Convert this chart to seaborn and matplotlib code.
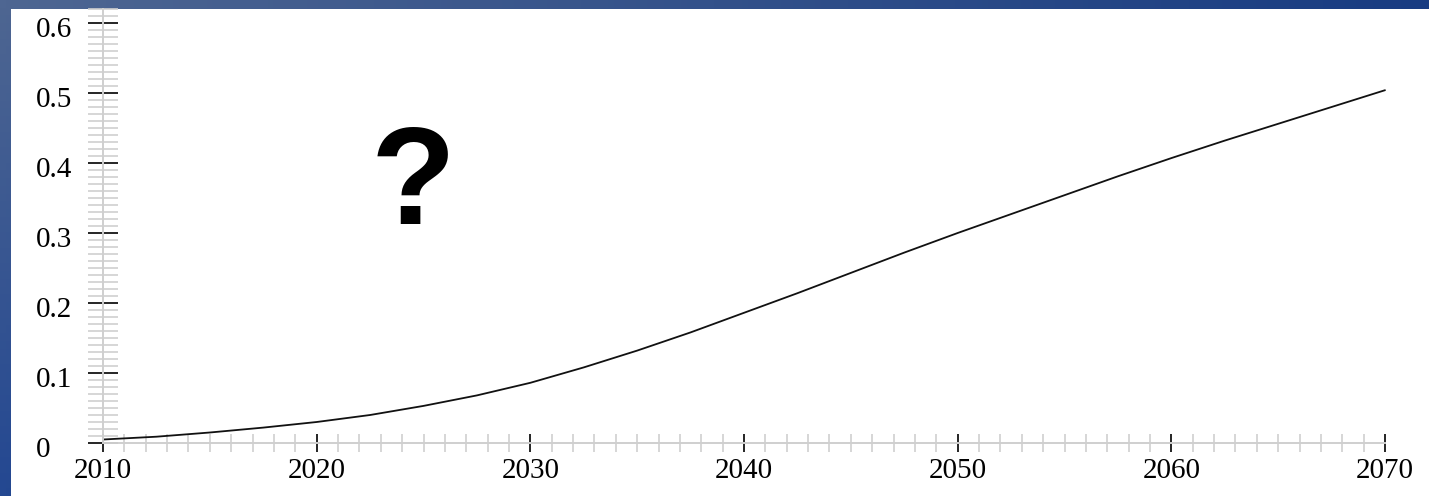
import numpy as np
import pandas as pd
import matplotlib
matplotlib.use("Agg")
import matplotlib.pyplot as plt
from matplotlib.ticker import FixedLocator
import matplotlib.transforms as mtransforms
import seaborn as sns

# Projected series
years = [2010, 2012.5, 2015, 2017.5, 2020, 2022.5, 2025, 2027.5, 2030, 2032.5,
         2035, 2037.5, 2040, 2042.5, 2045, 2047.5, 2050, 2052.5, 2055, 2057.5,
         2060, 2062.5, 2065, 2067.5, 2070]
values = [0.005, 0.009, 0.015, 0.022, 0.030, 0.040, 0.053, 0.068, 0.086, 0.108,
          0.132, 0.158, 0.186, 0.214, 0.243, 0.272, 0.300, 0.327, 0.354, 0.381,
          0.407, 0.432, 0.456, 0.480, 0.504]
y_ticks = [0.0, 0.1, 0.2, 0.3, 0.4, 0.5, 0.6]
y_tick_labels = ["0", "0.1", "0.2", "0.3", "0.4", "0.5", "0.6"]
x_ticks = [2010, 2020, 2030, 2040, 2050, 2060, 2070]

df = pd.DataFrame({"year": years, "value": values})

sns.set_style("white")
plt.rcParams["font.family"] = ["Liberation Serif", "DejaVu Serif"]

W, H = 1429, 496
fig = plt.figure(figsize=(W / 100, H / 100), dpi=100)

# Blue slide background with a soft gradient
bg = fig.add_axes([0, 0, 1, 1])
bg.set_axis_off()
gy, gx = np.mgrid[0:1:64j, 0:1:256j]
tl = np.array([78, 102, 146]) / 255
bl = np.array([36, 72, 145]) / 255
tr = np.array([24, 60, 130]) / 255
br = np.array([30, 66, 138]) / 255
grad = (tl[None, None, :] * ((1 - gx) * (1 - gy))[..., None]
        + bl[None, None, :] * ((1 - gx) * gy)[..., None]
        + tr[None, None, :] * (gx * (1 - gy))[..., None]
        + br[None, None, :] * (gx * gy)[..., None])
bg.imshow(grad, aspect="auto", extent=[0, 1, 0, 1])

# White chart panel
left_px, top_px = 11, 9
ax = fig.add_axes([left_px / W, 0, (W - left_px) / W, (H - top_px) / H])
ax.set_facecolor("white")

sns.lineplot(data=df, x="year", y="value", ax=ax, color="#111111", linewidth=1.3)

px_per_year = (1385 - 103) / 60
px_per_unit = 700.0
ax.set_xlim(2010 - (103 - left_px) / px_per_year, 2010 + (W - 103) / px_per_year)
ax.set_ylim(-(H - 443) / px_per_unit, (443 - top_px) / px_per_unit)

for s in ["top", "right"]:
    ax.spines[s].set_visible(False)
grey = "#cfcfcf"
ax.spines["left"].set_position(("data", 2010))
ax.spines["left"].set_bounds(0, 0.62)
ax.spines["bottom"].set_position(("data", 0))
ax.spines["bottom"].set_bounds(2010, 2070)
for s in ["left", "bottom"]:
    ax.spines[s].set_color(grey)
    ax.spines[s].set_linewidth(1.4)
    ax.spines[s].set_visible(True)

ax.set_yticks(y_ticks)
ax.set_yticklabels(y_tick_labels)
ax.yaxis.set_minor_locator(FixedLocator([i / 100 for i in range(0, 63) if i % 10]))
ax.set_xticks(x_ticks)
ax.set_xticklabels([str(x) for x in x_ticks])
ax.xaxis.set_minor_locator(FixedLocator([y for y in range(2010, 2071) if y % 10]))

# y labels are left-aligned in a column starting at x = 36 px
ax.tick_params(axis="y", which="major", direction="inout", length=21, width=1.2,
               color="black", pad=37.7, left=True)
ax.tick_params(axis="y", which="minor", direction="inout", length=21, width=1.2,
               color=grey, left=True)
ax.tick_params(axis="x", which="major", direction="inout", length=12.5, width=1.2,
               color="black", pad=4.5, bottom=True)
ax.tick_params(axis="x", which="minor", direction="inout", length=12.5, width=1.2,
               color=grey, bottom=True)
ax.set_xlabel("")
ax.set_ylabel("")

shift = mtransforms.ScaledTranslation(0, -4 / 100, fig.dpi_scale_trans)
for lab in ax.get_yticklabels():
    lab.set_fontsize(21)
    lab.set_color("black")
    lab.set_horizontalalignment("left")
    lab.set_transform(lab.get_transform() + shift)
for lab in ax.get_xticklabels():
    lab.set_fontsize(21)
    lab.set_color("black")

fig.text(413 / W, 1 - 188 / H, "?", ha="center", va="center",
         fontsize=100, fontweight="bold", family=["Liberation Sans", "DejaVu Sans"],
         color="black")

fig.savefig("out.png", dpi=100)
